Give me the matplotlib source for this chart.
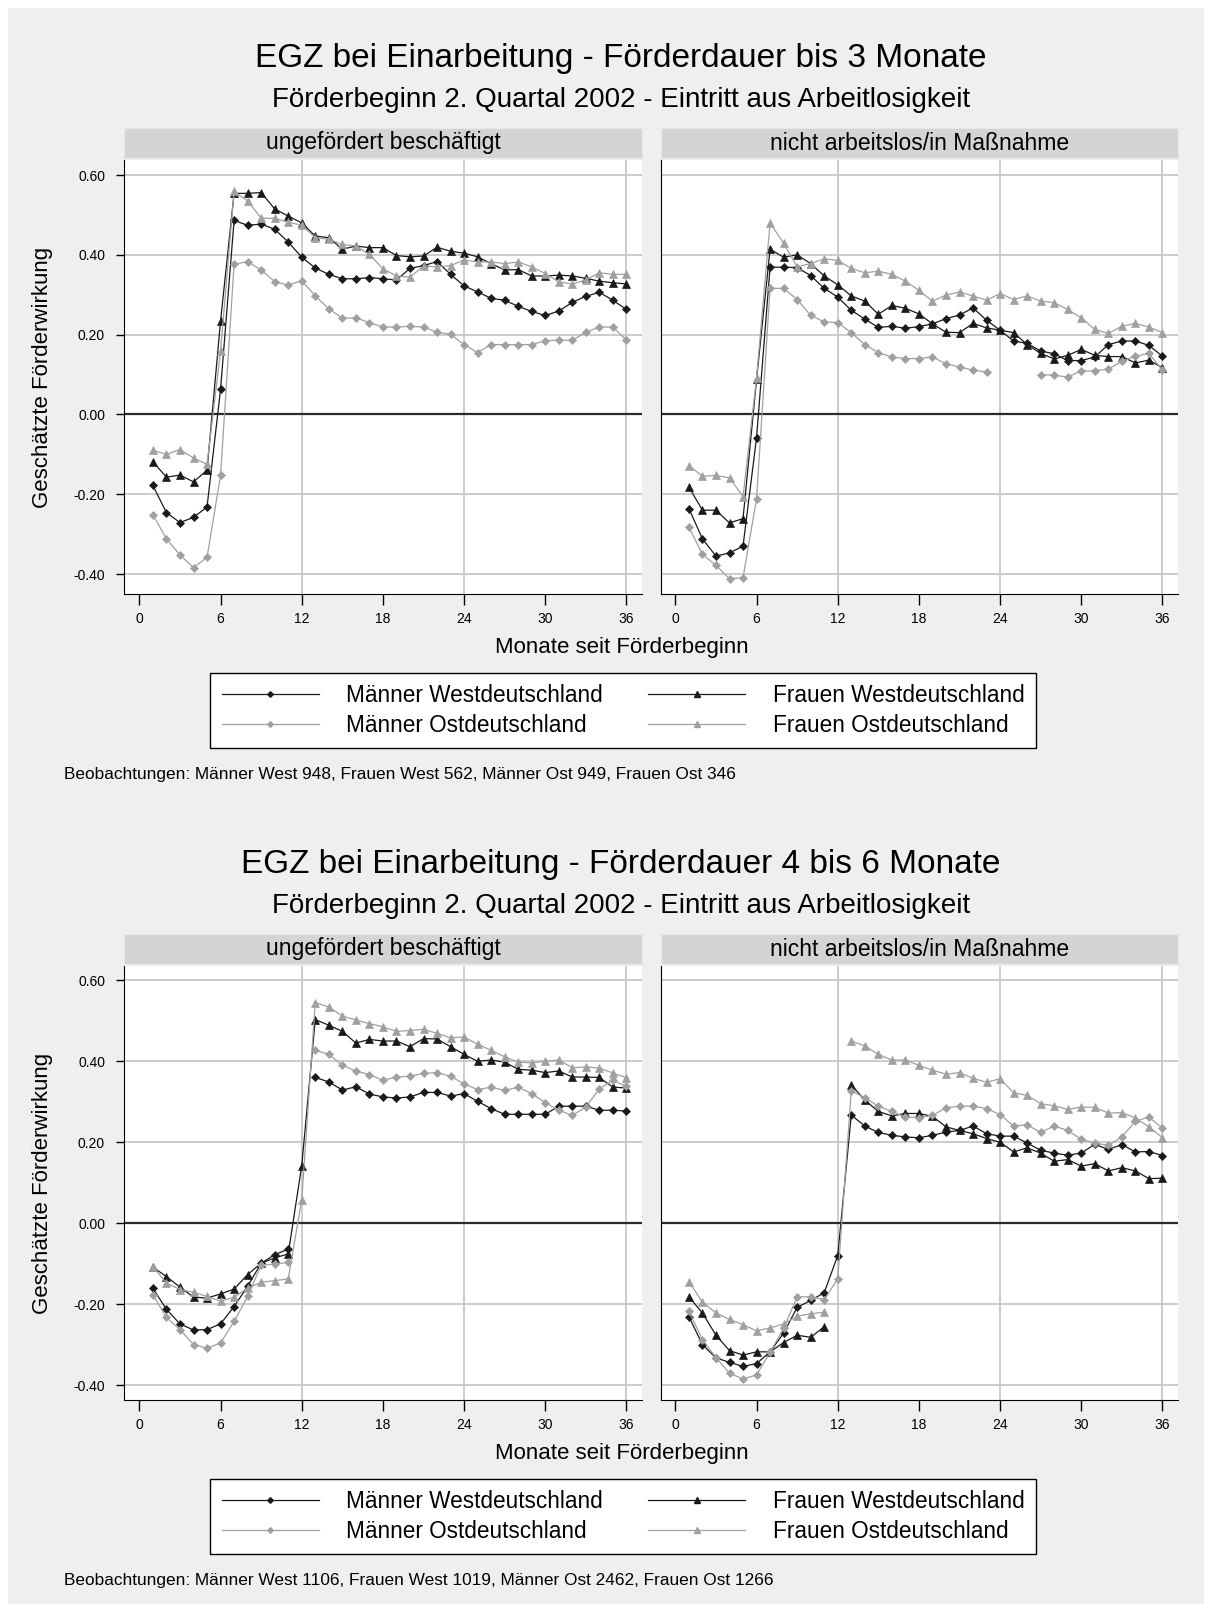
import numpy as np
import matplotlib
matplotlib.use("Agg")
import matplotlib.pyplot as plt
from matplotlib.lines import Line2D
from matplotlib.patches import Rectangle

plt.rcParams['font.family'] = ['Liberation Sans', 'DejaVu Sans']

nan = np.nan
monate = np.arange(1, 37)
xticks = [0, 6, 12, 18, 24, 30, 36]
yticks = [-0.4, -0.2, 0.0, 0.2, 0.4, 0.6]
ytick_labels = ['-0.40', '-0.20', '0.00', '0.20', '0.40', '0.60']

serien_namen = ['Männer Westdeutschland', 'Frauen Westdeutschland',
                'Männer Ostdeutschland', 'Frauen Ostdeutschland']
panel_titel = ['ungefördert beschäftigt', 'nicht arbeitslos/in Maßnahme']

# Grafik 1: Förderdauer bis 3 Monate
g1_besch_mw = [-0.178, -0.246, -0.271, -0.258, -0.232, 0.063, 0.486, 0.474, 0.477, 0.464, 0.432, 0.394,
               0.367, 0.351, 0.340, 0.340, 0.343, 0.340, 0.337, 0.366, 0.373, 0.383, 0.351, 0.322,
               0.307, 0.291, 0.286, 0.271, 0.258, 0.248, 0.259, 0.281, 0.296, 0.306, 0.286, 0.263]
g1_besch_fw = [-0.119, -0.157, -0.152, -0.169, -0.140, 0.234, 0.554, 0.554, 0.556, 0.515, 0.497, 0.480,
               0.447, 0.443, 0.414, 0.422, 0.418, 0.418, 0.398, 0.395, 0.397, 0.419, 0.409, 0.404,
               0.395, 0.378, 0.362, 0.363, 0.347, 0.347, 0.349, 0.347, 0.341, 0.334, 0.330, 0.327]
g1_besch_mo = [-0.251, -0.312, -0.352, -0.384, -0.358, -0.153, 0.376, 0.383, 0.362, 0.333, 0.324, 0.335,
               0.297, 0.265, 0.241, 0.242, 0.230, 0.219, 0.219, 0.221, 0.219, 0.206, 0.201, 0.175,
               0.155, 0.175, 0.175, 0.175, 0.175, 0.185, 0.186, 0.186, 0.206, 0.219, 0.219, 0.186]
g1_besch_fo = [-0.090, -0.100, -0.088, -0.109, -0.125, 0.159, 0.559, 0.535, 0.492, 0.491, 0.482, 0.474,
               0.443, 0.439, 0.426, 0.422, 0.401, 0.365, 0.347, 0.344, 0.372, 0.370, 0.373, 0.387,
               0.382, 0.382, 0.378, 0.382, 0.370, 0.353, 0.332, 0.327, 0.337, 0.355, 0.351, 0.351]

g1_massn_mw = [-0.236, -0.312, -0.355, -0.347, -0.330, -0.058, 0.369, 0.369, 0.368, 0.348, 0.316, 0.294,
               0.261, 0.239, 0.218, 0.221, 0.216, 0.220, 0.227, 0.240, 0.249, 0.267, 0.236, 0.211,
               0.184, 0.178, 0.159, 0.152, 0.135, 0.135, 0.144, 0.175, 0.184, 0.184, 0.173, 0.146]
g1_massn_fw = [-0.182, -0.240, -0.240, -0.272, -0.261, 0.088, 0.414, 0.394, 0.400, 0.378, 0.347, 0.325,
               0.297, 0.284, 0.251, 0.273, 0.266, 0.252, 0.227, 0.206, 0.205, 0.228, 0.217, 0.211,
               0.205, 0.175, 0.153, 0.139, 0.148, 0.163, 0.148, 0.145, 0.145, 0.129, 0.136, 0.117]
g1_massn_mo = [-0.282, -0.351, -0.378, -0.412, -0.409, -0.211, 0.316, 0.316, 0.288, 0.248, 0.232, 0.230,
               0.205, 0.175, 0.155, 0.144, 0.140, 0.140, 0.144, 0.127, 0.119, 0.111, 0.106, nan,
               nan, nan, 0.100, 0.098, 0.094, 0.109, 0.109, 0.114, 0.133, 0.146, 0.153, 0.111]
g1_massn_fo = [-0.128, -0.155, -0.153, -0.159, -0.206, 0.092, 0.480, 0.429, 0.370, 0.378, 0.390, 0.386,
               0.366, 0.355, 0.359, 0.351, 0.334, 0.311, 0.284, 0.299, 0.307, 0.297, 0.286, 0.303,
               0.288, 0.297, 0.284, 0.280, 0.263, 0.242, 0.213, 0.203, 0.221, 0.228, 0.219, 0.205]

# Grafik 2: Förderdauer 4 bis 6 Monate
g2_besch_mw = [-0.161, -0.213, -0.249, -0.264, -0.263, -0.249, -0.206, -0.156, -0.099, -0.078, -0.064, nan,
               0.360, 0.349, 0.329, 0.337, 0.319, 0.312, 0.309, 0.312, 0.323, 0.323, 0.314, 0.320,
               0.301, 0.283, 0.269, 0.269, 0.269, 0.269, 0.289, 0.289, 0.289, 0.279, 0.279, 0.277]
g2_besch_fw = [-0.109, -0.132, -0.158, -0.183, -0.185, -0.175, -0.163, -0.127, -0.099, -0.086, -0.076, 0.142,
               0.503, 0.489, 0.474, 0.445, 0.454, 0.450, 0.450, 0.436, 0.456, 0.455, 0.436, 0.417,
               0.400, 0.403, 0.398, 0.380, 0.378, 0.372, 0.376, 0.361, 0.361, 0.360, 0.336, 0.334]
g2_besch_mo = [-0.177, -0.233, -0.263, -0.300, -0.309, -0.296, -0.243, -0.181, -0.104, -0.101, -0.097, nan,
               0.427, 0.417, 0.390, 0.376, 0.367, 0.353, 0.361, 0.363, 0.370, 0.372, 0.363, 0.344,
               0.330, 0.336, 0.328, 0.336, 0.320, 0.298, 0.279, 0.266, 0.287, 0.332, 0.353, 0.338]
g2_besch_fo = [-0.108, -0.148, -0.164, -0.171, -0.181, -0.193, -0.183, -0.161, -0.146, -0.142, -0.138, 0.058,
               0.545, 0.534, 0.512, 0.502, 0.493, 0.485, 0.474, 0.476, 0.479, 0.469, 0.458, 0.460,
               0.442, 0.427, 0.411, 0.398, 0.396, 0.400, 0.403, 0.384, 0.386, 0.383, 0.371, 0.359]

g2_massn_mw = [-0.231, -0.300, -0.333, -0.344, -0.354, -0.347, -0.318, -0.272, -0.208, -0.191, -0.172, -0.080,
               0.267, 0.240, 0.224, 0.217, 0.213, 0.211, 0.217, 0.225, 0.229, 0.240, 0.221, 0.215,
               0.215, 0.198, 0.180, 0.173, 0.168, 0.173, 0.195, 0.182, 0.194, 0.176, 0.177, 0.167]
g2_massn_fw = [-0.182, -0.222, -0.277, -0.315, -0.326, -0.318, -0.318, -0.295, -0.277, -0.282, -0.256, nan,
               0.342, 0.304, 0.276, 0.265, 0.271, 0.271, 0.264, 0.238, 0.229, 0.221, 0.209, 0.200,
               0.176, 0.186, 0.173, 0.153, 0.157, 0.141, 0.147, 0.129, 0.137, 0.129, 0.110, 0.111]
g2_massn_mo = [-0.218, -0.288, -0.332, -0.371, -0.385, -0.375, -0.319, -0.260, -0.182, -0.182, -0.189, -0.138,
               0.327, 0.310, 0.289, 0.276, 0.262, 0.261, 0.266, 0.285, 0.289, 0.289, 0.283, 0.268,
               0.240, 0.243, 0.224, 0.240, 0.229, 0.207, 0.198, 0.192, 0.213, 0.252, 0.262, 0.235]
g2_massn_fo = [-0.145, -0.195, -0.222, -0.238, -0.251, -0.266, -0.259, -0.249, -0.230, -0.224, -0.220, nan,
               0.450, 0.438, 0.417, 0.403, 0.403, 0.390, 0.378, 0.368, 0.372, 0.358, 0.348, 0.357,
               0.322, 0.316, 0.295, 0.290, 0.281, 0.287, 0.286, 0.272, 0.273, 0.260, 0.238, 0.211]

titel = ['EGZ bei Einarbeitung - Förderdauer bis 3 Monate',
         'EGZ bei Einarbeitung - Förderdauer 4 bis 6 Monate']
untertitel = 'Förderbeginn 2. Quartal 2002 - Eintritt aus Arbeitlosigkeit'
beobachtungen = ['Beobachtungen: Männer West 948, Frauen West 562, Männer Ost 949, Frauen Ost 346',
                 'Beobachtungen: Männer West 1106, Frauen West 1019, Männer Ost 2462, Frauen Ost 1266']

schwarz = '#1a1a1a'
grau = '#a0a0a0'
stile = [dict(color=schwarz, marker='D', ms=3.8),
         dict(color=schwarz, marker='^', ms=5.2),
         dict(color=grau, marker='D', ms=3.8),
         dict(color=grau, marker='^', ms=5.2)]

W, H = 1212, 1612
fig = plt.figure(figsize=(W / 100, H / 100), dpi=100)
fig.patch.set_facecolor('white')
fig.add_artist(Rectangle((8 / W, 8 / H), (W - 16) / W, (H - 16) / H, transform=fig.transFigure,
                         facecolor='#efefef', edgecolor='none', zorder=-10))


def box(x0, y0, x1, y1):
    return [x0 / W, 1 - y1 / H, (x1 - x0) / W, (y1 - y0) / H]


def panel(x0, x1, dy, ylim, name, daten, links):
    st = fig.add_axes(box(x0, 128 + dy, x1, 158 + dy))
    st.set_facecolor('#d4d4d4')
    for s in st.spines.values():
        s.set_color('#e4e8ec')
    st.set_xticks([])
    st.set_yticks([])
    st.text(0.5, 0.5, name, ha='center', va='center', fontsize=16.5, transform=st.transAxes)

    ax = fig.add_axes(box(x0, 160 + dy, x1, 594 + dy))
    ax.set_facecolor('white')
    for v in [-0.4, -0.2, 0.2, 0.4, 0.6]:
        ax.axhline(v, color='#c8c8c8', lw=1.3, zorder=0)
    for v in [12, 24, 36]:
        ax.axvline(v, color='#c8c8c8', lw=1.3, zorder=0)
    ax.axhline(0, color='#2a2a2a', lw=1.6, zorder=1)
    for y, st_ in zip(daten, stile):
        ax.plot(monate, y, color=st_['color'], lw=0.9, marker=st_['marker'], ms=st_['ms'],
                mfc=st_['color'], mec=st_['color'], mew=0.5, zorder=3)
    ax.set_xlim(-1.1, 37.15)
    ax.set_ylim(*ylim)
    ax.set_xticks(xticks)
    ax.set_yticks(yticks)
    ax.spines['top'].set_visible(False)
    ax.spines['right'].set_visible(False)
    ax.spines['left'].set_color('black')
    ax.spines['bottom'].set_color('black')
    ax.tick_params(axis='x', direction='out', length=8, width=1, labelsize=10, pad=5)
    if links:
        ax.set_yticklabels(ytick_labels)
        ax.tick_params(axis='y', direction='out', length=6, width=1, labelsize=10, pad=8)
    else:
        ax.tick_params(axis='y', left=False, labelleft=False)
    return ax


grafiken = [
    (0, (-0.450, 0.6376), [g1_besch_mw, g1_besch_fw, g1_besch_mo, g1_besch_fo],
     [g1_massn_mw, g1_massn_fw, g1_massn_mo, g1_massn_fo]),
    (806, (-0.437, 0.6354), [g2_besch_mw, g2_besch_fw, g2_besch_mo, g2_besch_fo],
     [g2_massn_mw, g2_massn_fw, g2_massn_mo, g2_massn_fo]),
]

# legend fills column-wise: order so rows read MW | FW, MO | FO
leg_order = [0, 2, 1, 3]

for i, (dy, ylim, besch, massn) in enumerate(grafiken):
    fig.text(621 / W, 1 - (59 + dy) / H, titel[i], ha='center', va='center', fontsize=24)
    fig.text(621 / W, 1 - (100 + dy) / H, untertitel, ha='center', va='center', fontsize=20)
    panel(124.5, 642, dy, ylim, panel_titel[0], besch, True)
    panel(660.5, 1178, dy, ylim, panel_titel[1], massn, False)
    fig.text(43 / W, 1 - (377 + dy) / H, 'Geschätzte Förderwirkung', rotation=90,
             ha='center', va='center', fontsize=16)
    fig.text(622 / W, 1 - (648 + dy) / H, 'Monate seit Förderbeginn', ha='center', va='center',
             fontsize=16)
    handles = [Line2D([], [], color=stile[k]['color'], lw=0.9, marker=stile[k]['marker'],
                      ms=stile[k]['ms'] * 0.75, mfc=stile[k]['color'], mec=stile[k]['color'])
               for k in leg_order]
    labels = [serien_namen[k] for k in leg_order]
    leg = fig.legend(handles, labels, ncol=2, loc='center',
                     bbox_to_anchor=(623 / W, 1 - (710.5 + dy) / H), fontsize=16.3,
                     frameon=True, fancybox=False, edgecolor='black', facecolor='white',
                     framealpha=1, handlelength=4.3, handletextpad=1.2, borderpad=0.5,
                     columnspacing=2.0, labelspacing=0.3, numpoints=1, borderaxespad=0)
    leg.get_frame().set_linewidth(1.0)
    fig.text(64 / W, 1 - (774 + dy) / H, beobachtungen[i], ha='left', va='center', fontsize=12.4)

fig.savefig('out.png', dpi=100, facecolor=fig.get_facecolor())
